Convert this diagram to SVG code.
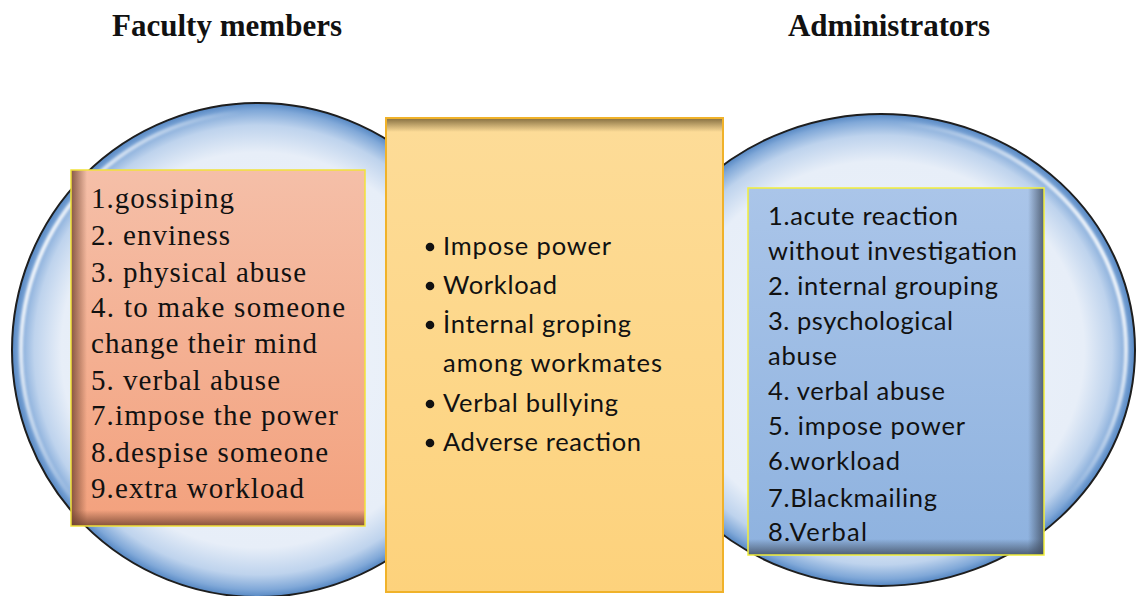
<svg xmlns="http://www.w3.org/2000/svg" width="1136" height="596" viewBox="0 0 1136 596">
  <defs>
    <style>
      .title { font-family: "Liberation Serif", "Times New Roman", serif; font-weight: bold; font-size: 31px; fill: #111; }
      .serif { font-family: "Liberation Serif", "Times New Roman", serif; font-size: 29px; fill: #111; }
      .sans { font-family: Lato, "Open Sans", "Liberation Sans", sans-serif; font-size: 25.5px; fill: #111; }
      .bubble { stroke: #1e1e1e; stroke-width: 2; }
      .dot { fill: #111; }
    </style>
    <!-- glossy bubble fill: pale centre, blue rim -->
    <radialGradient id="bubbleFill" cx="0.5" cy="0.5" r="0.5">
      <stop offset="0" stop-color="#eef3fa"/>
      <stop offset="0.8" stop-color="#e7eef8"/>
      <stop offset="0.91" stop-color="#bed3ed"/>
      <stop offset="0.97" stop-color="#80a8d8"/>
      <stop offset="1" stop-color="#5587c3"/>
    </radialGradient>
    <linearGradient id="shineL" x1="0" y1="0.3" x2="1" y2="0.7">
      <stop offset="0" stop-color="#fff" stop-opacity="0.95"/>
      <stop offset="0.3" stop-color="#fff" stop-opacity="0"/>
    </linearGradient>
    <linearGradient id="shineR" x1="1" y1="0.3" x2="0" y2="0.7">
      <stop offset="0" stop-color="#fff" stop-opacity="0.95"/>
      <stop offset="0.3" stop-color="#fff" stop-opacity="0"/>
    </linearGradient>
    <filter id="soft" x="-5%" y="-5%" width="110%" height="110%">
      <feGaussianBlur stdDeviation="1.2"/>
    </filter>
    <!-- box fills -->
    <linearGradient id="salmon" x1="0" y1="0" x2="0" y2="1">
      <stop offset="0" stop-color="#f5bfa8"/>
      <stop offset="1" stop-color="#f3a17d"/>
    </linearGradient>
    <linearGradient id="amber" x1="0" y1="0" x2="0" y2="1">
      <stop offset="0" stop-color="#fddc98"/>
      <stop offset="1" stop-color="#fdd27c"/>
    </linearGradient>
    <linearGradient id="steel" x1="0" y1="0" x2="0" y2="1">
      <stop offset="0" stop-color="#aac5e9"/>
      <stop offset="1" stop-color="#8eb2df"/>
    </linearGradient>
    <!-- inner shadows -->
    <linearGradient id="shLeft" x1="0" y1="0" x2="1" y2="0">
      <stop offset="0" stop-color="#6b3f2c" stop-opacity="0.8"/>
      <stop offset="1" stop-color="#6b3f2c" stop-opacity="0"/>
    </linearGradient>
    <linearGradient id="shBottomBrown" x1="0" y1="1" x2="0" y2="0">
      <stop offset="0" stop-color="#6b3f2c" stop-opacity="0.8"/>
      <stop offset="1" stop-color="#6b3f2c" stop-opacity="0"/>
    </linearGradient>
    <linearGradient id="shTop" x1="0" y1="0" x2="0" y2="1">
      <stop offset="0" stop-color="#6e5a30" stop-opacity="0.85"/>
      <stop offset="1" stop-color="#6e5a30" stop-opacity="0"/>
    </linearGradient>
    <linearGradient id="shRight" x1="1" y1="0" x2="0" y2="0">
      <stop offset="0" stop-color="#3e4a5c" stop-opacity="0.8"/>
      <stop offset="1" stop-color="#3e4a5c" stop-opacity="0"/>
    </linearGradient>
    <linearGradient id="shBottomSlate" x1="0" y1="1" x2="0" y2="0">
      <stop offset="0" stop-color="#3e4a5c" stop-opacity="0.8"/>
      <stop offset="1" stop-color="#3e4a5c" stop-opacity="0"/>
    </linearGradient>
  </defs>

  <rect width="1136" height="596" fill="#fff"/>

  <!-- headings -->
  <g id="heading-faculty">
    <text class="title" x="112" y="36" textLength="230">Faculty members</text>
  </g>
  <g id="heading-admin">
    <text class="title" x="788" y="36" textLength="202">Administrators</text>
  </g>

  <!-- bubbles -->
  <g id="bubble-faculty">
    <ellipse class="bubble" cx="258" cy="350" rx="246" ry="247" fill="url(#bubbleFill)"/>
    <ellipse cx="258" cy="350" rx="237" ry="238" fill="none" stroke="url(#shineL)" stroke-width="4" filter="url(#soft)"/>
  </g>
  <g id="bubble-admin">
    <ellipse class="bubble" cx="881" cy="350" rx="254" ry="236" fill="url(#bubbleFill)"/>
    <ellipse cx="881" cy="350" rx="245" ry="227" fill="none" stroke="url(#shineR)" stroke-width="4" filter="url(#soft)"/>
  </g>

  <!-- faculty-only list -->
  <g id="box-faculty">
    <rect x="71" y="170" width="294" height="356" fill="url(#salmon)"/>
    <rect x="71" y="170" width="16" height="356" fill="url(#shLeft)"/>
    <rect x="71" y="510" width="294" height="16" fill="url(#shBottomBrown)"/>
    <rect x="71" y="170" width="294" height="356" fill="none" stroke="#f2e23a" stroke-width="1.5"/>
    <text class="serif" x="91" y="208" textLength="143">1.gossiping</text>
    <text class="serif" x="91" y="245" textLength="139">2. enviness</text>
    <text class="serif" x="91" y="282" textLength="215">3. physical abuse</text>
    <text class="serif" x="91" y="317" textLength="254">4. to make someone</text>
    <text class="serif" x="91" y="353" textLength="226">change their mind</text>
    <text class="serif" x="91" y="390" textLength="189">5. verbal abuse</text>
    <text class="serif" x="91" y="425" textLength="247">7.impose the power</text>
    <text class="serif" x="91" y="462" textLength="237">8.despise someone</text>
    <text class="serif" x="91" y="498" textLength="213">9.extra workload</text>
  </g>

  <!-- shared list -->
  <g id="box-shared">
    <rect x="386" y="118" width="337" height="474" fill="url(#amber)"/>
    <rect x="386" y="118" width="337" height="14" fill="url(#shTop)"/>
    <rect x="386" y="118" width="337" height="474" fill="none" stroke="#f0b22a" stroke-width="2"/>
    <circle class="dot" cx="430" cy="247" r="4.3"/>
    <circle class="dot" cx="430" cy="286" r="4.3"/>
    <circle class="dot" cx="430" cy="325" r="4.3"/>
    <circle class="dot" cx="430" cy="404" r="4.3"/>
    <circle class="dot" cx="430" cy="443" r="4.3"/>
    <text class="sans" x="443" y="255" textLength="168">Impose power</text>
    <text class="sans" x="443" y="294" textLength="114">Workload</text>
    <text class="sans" x="443" y="333" textLength="188">İnternal groping</text>
    <text class="sans" x="443" y="372" textLength="219">among workmates</text>
    <text class="sans" x="443" y="412" textLength="175">Verbal bullying</text>
    <text class="sans" x="443" y="451" textLength="198">Adverse reaction</text>
  </g>

  <!-- administrator-only list -->
  <g id="box-admin">
    <rect x="748" y="188" width="296" height="367" fill="url(#steel)"/>
    <rect x="1028" y="188" width="16" height="367" fill="url(#shRight)"/>
    <rect x="748" y="539" width="296" height="16" fill="url(#shBottomSlate)"/>
    <rect x="748" y="188" width="296" height="367" fill="none" stroke="#f2ee3a" stroke-width="1.5"/>
    <text class="sans" x="768" y="225" textLength="190">1.acute reaction</text>
    <text class="sans" x="768" y="260" textLength="249">without investigation</text>
    <text class="sans" x="768" y="295" textLength="230">2. internal grouping</text>
    <text class="sans" x="768" y="330" textLength="185">3. psychological</text>
    <text class="sans" x="768" y="365" textLength="69">abuse</text>
    <text class="sans" x="768" y="400" textLength="177">4. verbal abuse</text>
    <text class="sans" x="768" y="435" textLength="197">5. impose power</text>
    <text class="sans" x="768" y="470" textLength="132">6.workload</text>
    <text class="sans" x="768" y="507" textLength="169">7.Blackmailing</text>
    <text class="sans" x="768" y="541" textLength="99">8.Verbal</text>
  </g>

  <!-- no connectors in this diagram -->
  <g id="connectors"/>
</svg>
